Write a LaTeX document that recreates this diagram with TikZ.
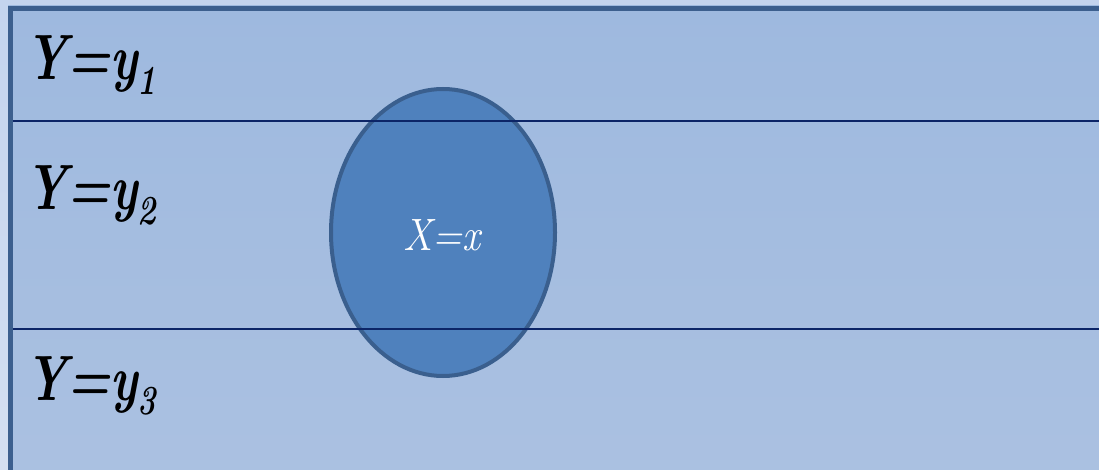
\documentclass[tikz,border=0pt]{standalone}
\usepackage{fontspec}
\usetikzlibrary{shapes.geometric}
\definecolor{outerTop}{HTML}{C4D4EE}
\definecolor{outerBot}{HTML}{D4DFF1}
\definecolor{bgTop}{HTML}{9EB9DF}
\definecolor{bgBot}{HTML}{ABC1E1}
\definecolor{frameC}{HTML}{3C5F8E}
\definecolor{lineC}{HTML}{0C2567}
\definecolor{ellFill}{HTML}{4F81BD}
\definecolor{ellDraw}{HTML}{3A5F8E}
\tikzset{
  ylabel/.style={anchor=base west, inner sep=0pt, font=\fontsize{48}{48}\selectfont\bfseries\itshape},
  divider/.style={draw=lineC, line width=1.5pt},
  region/.style={ellipse, draw=ellDraw, fill=ellFill, line width=3pt, minimum width=168pt, minimum height=215.25pt, inner sep=0pt}
}
\newcommand{\subidx}[1]{\raisebox{-11pt}{\fontsize{31}{31}\selectfont #1}}
\newcommand{\ytext}[1]{\scalebox{0.76}[1]{Y=y\subidx{#1}}}
\begin{document}
\begin{tikzpicture}[x=0.75pt,y=-0.75pt]
  \useasboundingbox (0,0) rectangle (1099,470);
  \clip (0,0) rectangle (1099,470);
  \shade[top color=outerTop, bottom color=outerBot] (0,0) rectangle (1099,470);
  \shade[top color=bgTop, bottom color=bgBot] (8,6) rectangle (1120,490);
  \draw[frameC, line width=3.75pt] (10.5,490) -- (10.5,8.5) -- (1120,8.5);
  \node[region] (xnode) at (443,232.5) {};
  \coordinate (l1a) at (13,121);
  \coordinate (l1b) at (1099,121);
  \coordinate (l2a) at (13,329);
  \coordinate (l2b) at (1099,329);
  \draw[divider] (l1a) -- (l1b);
  \draw[divider] (l2a) -- (l2b);
  \node[anchor=base, inner sep=0pt, text=white, font=\fontsize{34}{36}\selectfont\itshape] (xlab) at (442,251) {\scalebox{0.88}[1]{X=x}};
  \node[ylabel] (y1) at (25,80) {\ytext{1}};
  \node[ylabel] (y2) at (25,210) {\ytext{2}};
  \node[ylabel] (y3) at (25,400) {\ytext{3}};
\end{tikzpicture}
\end{document}
